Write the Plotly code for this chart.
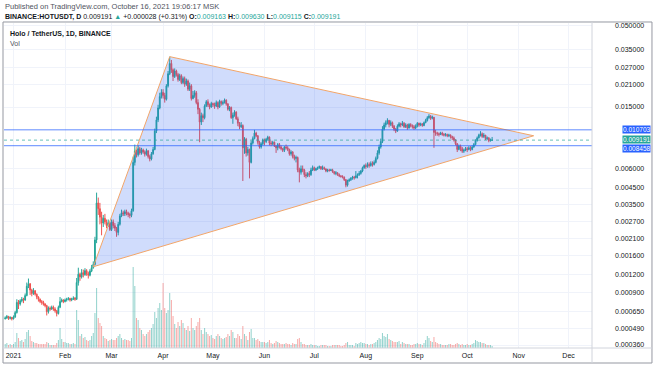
import numpy as np
import pandas as pd
import plotly.graph_objects as go

# ---------------- data (HOT/USDT daily) ----------------
dates = pd.date_range("2020-12-27", "2021-10-16", freq="D")
first_open = 0.000575

close_dec = [0.000585, 0.000600, 0.000580, 0.000590, 0.000575]
high_dec = [0.000600, 0.000615, 0.000605, 0.000600, 0.000595]
low_dec = [0.000570, 0.000575, 0.000565, 0.000570, 0.000560]

close_jan = [0.000595, 0.000640, 0.000760, 0.000740, 0.000780, 0.000800, 0.000790, 0.000850, 0.000990, 0.001030,
             0.000930, 0.000880, 0.000920, 0.000870, 0.000830, 0.000800, 0.000770, 0.000760, 0.000740, 0.000720,
             0.000650, 0.000690, 0.000680, 0.000700, 0.000680, 0.000660, 0.000630, 0.000700, 0.000770, 0.000790,
             0.000770]
high_jan = [0.000610, 0.000660, 0.000800, 0.000790, 0.000800, 0.000830, 0.000820, 0.000880, 0.001050, 0.001120,
            0.001040, 0.000950, 0.000960, 0.000930, 0.000880, 0.000840, 0.000810, 0.000790, 0.000780, 0.000750,
            0.000730, 0.000710, 0.000710, 0.000720, 0.000720, 0.000700, 0.000670, 0.000720, 0.000830, 0.000810,
            0.000800]
low_jan = [0.000570, 0.000585, 0.000630, 0.000680, 0.000720, 0.000760, 0.000750, 0.000780, 0.000840, 0.000960,
           0.000860, 0.000840, 0.000860, 0.000850, 0.000800, 0.000770, 0.000750, 0.000730, 0.000720, 0.000700,
           0.000610, 0.000630, 0.000660, 0.000670, 0.000660, 0.000640, 0.000600, 0.000620, 0.000690, 0.000760,
           0.000750]

close_feb = [0.000790, 0.000800, 0.000810, 0.000790, 0.000800, 0.000815, 0.000800, 0.001050, 0.001200, 0.001150,
             0.001230, 0.001190, 0.001270, 0.001210, 0.001180, 0.001260, 0.001330, 0.001400, 0.002050, 0.003600,
             0.003300, 0.002900, 0.002650, 0.002850, 0.002700, 0.002550, 0.002650, 0.002400]
high_feb = [0.000810, 0.000820, 0.000830, 0.000820, 0.000820, 0.000840, 0.000830, 0.001130, 0.001330, 0.001230,
            0.001300, 0.001290, 0.001320, 0.001300, 0.001250, 0.001300, 0.001390, 0.001470, 0.002150, 0.004200,
            0.003900, 0.003600, 0.003150, 0.003000, 0.003050, 0.002800, 0.002800, 0.002700]
low_feb = [0.000760, 0.000770, 0.000785, 0.000770, 0.000775, 0.000790, 0.000780, 0.000790, 0.001000, 0.001080,
           0.001120, 0.001140, 0.001170, 0.001170, 0.001120, 0.001160, 0.001240, 0.001310, 0.001380, 0.001950,
           0.003000, 0.002600, 0.002200, 0.002500, 0.002600, 0.002450, 0.002500, 0.002350]

close_mar = [0.002700, 0.002550, 0.002450, 0.002300, 0.002600, 0.002950, 0.003100, 0.003050, 0.003150, 0.003080,
             0.003020, 0.002980, 0.003200, 0.006600, 0.007800, 0.007400, 0.008100, 0.007600, 0.007950, 0.007700,
             0.007450, 0.007850, 0.007200, 0.006950, 0.007500, 0.008000, 0.010500, 0.012400, 0.014800, 0.017500,
             0.018600]
high_mar = [0.002800, 0.002800, 0.002650, 0.002500, 0.002700, 0.003050, 0.003250, 0.003200, 0.003250, 0.003250,
            0.003150, 0.003100, 0.003300, 0.007200, 0.008600, 0.008000, 0.008500, 0.008300, 0.008200, 0.008100,
            0.007900, 0.008100, 0.007900, 0.007400, 0.007700, 0.008300, 0.010900, 0.013000, 0.015500, 0.018500,
            0.019500]
low_mar = [0.002350, 0.002450, 0.002350, 0.002150, 0.002200, 0.002550, 0.002900, 0.002950, 0.002950, 0.002980,
           0.002900, 0.002850, 0.002900, 0.003150, 0.006300, 0.007100, 0.007200, 0.007400, 0.007400, 0.007500,
           0.007200, 0.007300, 0.007000, 0.006700, 0.006800, 0.007400, 0.007900, 0.010200, 0.012000, 0.014500,
           0.017000]

close_apr = [0.017800, 0.016800, 0.020500, 0.024500, 0.028500, 0.026000, 0.023500, 0.025500, 0.024200, 0.022500,
             0.023800, 0.021500, 0.022800, 0.021000, 0.022000, 0.019500, 0.020500, 0.017000, 0.017800, 0.018500,
             0.016000, 0.014500, 0.012000, 0.013200, 0.012800, 0.015200, 0.016200, 0.015500, 0.015000, 0.015800]
high_apr = [0.019500, 0.018500, 0.021000, 0.025500, 0.031500, 0.030000, 0.026500, 0.026500, 0.026000, 0.024800,
            0.024500, 0.024300, 0.023500, 0.023500, 0.022800, 0.022500, 0.021500, 0.021000, 0.019000, 0.019200,
            0.019000, 0.016800, 0.014800, 0.013800, 0.013600, 0.015600, 0.016600, 0.016800, 0.015800, 0.016200]
low_apr = [0.017000, 0.016000, 0.016500, 0.020000, 0.024000, 0.024800, 0.022000, 0.023000, 0.023500, 0.021800,
           0.022000, 0.021000, 0.021000, 0.020200, 0.020500, 0.019000, 0.019000, 0.016500, 0.016800, 0.017200,
           0.015600, 0.013500, 0.008900, 0.011500, 0.012000, 0.012500, 0.015000, 0.015000, 0.014500, 0.014800]

close_may = [0.015500, 0.015200, 0.016000, 0.015000, 0.016300, 0.015800, 0.016000, 0.016600, 0.015700, 0.014500,
             0.014900, 0.012800, 0.013300, 0.013900, 0.012600, 0.011800, 0.011200, 0.011400, 0.008200, 0.009300,
             0.007600, 0.008000, 0.006600, 0.008800, 0.009400, 0.010200, 0.009800, 0.008900, 0.008300, 0.008700,
             0.009200]
high_may = [0.016000, 0.016000, 0.016500, 0.016300, 0.016700, 0.016500, 0.016500, 0.017000, 0.016800, 0.015900,
            0.015200, 0.015100, 0.013800, 0.014300, 0.014100, 0.013000, 0.012000, 0.012000, 0.011600, 0.009600,
            0.009500, 0.008300, 0.008100, 0.009100, 0.009700, 0.010700, 0.010400, 0.009900, 0.009100, 0.008900,
            0.009400]
low_may = [0.015000, 0.014600, 0.015000, 0.014500, 0.014800, 0.015300, 0.015400, 0.015800, 0.015300, 0.014200,
           0.014100, 0.012600, 0.011700, 0.013000, 0.012400, 0.011300, 0.010800, 0.011000, 0.005000, 0.007500,
           0.007200, 0.007300, 0.005200, 0.006500, 0.008600, 0.009300, 0.009600, 0.008600, 0.008100, 0.008100,
           0.008500]

close_jun = [0.009000, 0.009300, 0.009600, 0.008800, 0.008700, 0.008900, 0.008400, 0.008200, 0.008600, 0.008300,
             0.008100, 0.007900, 0.008300, 0.008200, 0.008000, 0.007500, 0.007700, 0.007200, 0.007000, 0.007100,
             0.005900, 0.005700, 0.006000, 0.005900, 0.005500, 0.005400, 0.005600, 0.005500, 0.005900, 0.006100]
high_jun = [0.009400, 0.009500, 0.009800, 0.009700, 0.009100, 0.009100, 0.009000, 0.008500, 0.008800, 0.008800,
            0.008500, 0.008200, 0.008400, 0.008600, 0.008400, 0.008100, 0.007900, 0.007800, 0.007400, 0.007300,
            0.007200, 0.006100, 0.006300, 0.006300, 0.006000, 0.005700, 0.005700, 0.005800, 0.006100, 0.006300]
low_jun = [0.008500, 0.008800, 0.009100, 0.008500, 0.008400, 0.008500, 0.008300, 0.007600, 0.007900, 0.008100,
           0.007900, 0.007700, 0.007700, 0.008000, 0.007800, 0.007300, 0.007300, 0.007000, 0.006800, 0.006600,
           0.005700, 0.004900, 0.005500, 0.005700, 0.005300, 0.005200, 0.005300, 0.005300, 0.005400, 0.005800]

close_jul = [0.005900, 0.006000, 0.006100, 0.006200, 0.006000, 0.006100, 0.006000, 0.005800, 0.005900, 0.005850,
             0.005900, 0.005750, 0.005600, 0.005650, 0.005500, 0.005400, 0.005350, 0.005300, 0.005100, 0.004700,
             0.005000, 0.005100, 0.005200, 0.005300, 0.005250, 0.005400, 0.005500, 0.005600, 0.005800, 0.006100,
             0.006300]
high_jul = [0.006200, 0.006100, 0.006200, 0.006300, 0.006200, 0.006300, 0.006200, 0.006000, 0.006000, 0.006000,
            0.006000, 0.006000, 0.005800, 0.005800, 0.005700, 0.005600, 0.005450, 0.005450, 0.005350, 0.005150,
            0.005100, 0.005200, 0.005300, 0.005400, 0.005400, 0.005800, 0.005600, 0.005800, 0.005900, 0.006200,
            0.006400]
low_jul = [0.005800, 0.005800, 0.005900, 0.006000, 0.005900, 0.005900, 0.005900, 0.005700, 0.005700, 0.005750,
           0.005800, 0.005650, 0.005500, 0.005450, 0.005400, 0.005300, 0.005250, 0.005200, 0.005000, 0.004550,
           0.004600, 0.004950, 0.005000, 0.005100, 0.005100, 0.005200, 0.005200, 0.005400, 0.005500, 0.005700,
           0.006000]

close_aug = [0.006200, 0.006400, 0.006300, 0.006500, 0.006400, 0.006600, 0.007000, 0.007600, 0.008300, 0.009000,
             0.010800, 0.011500, 0.011900, 0.012300, 0.011600, 0.011900, 0.011300, 0.010800, 0.010500, 0.011300,
             0.011700, 0.011500, 0.011800, 0.011200, 0.011500, 0.011000, 0.011600, 0.011400, 0.011200, 0.011000,
             0.011300]
high_aug = [0.006500, 0.006600, 0.006600, 0.006700, 0.006700, 0.006800, 0.007200, 0.007900, 0.008600, 0.009400,
            0.011300, 0.011900, 0.012300, 0.012700, 0.012400, 0.012300, 0.012100, 0.011500, 0.011000, 0.011600,
            0.012000, 0.011900, 0.012200, 0.012000, 0.011800, 0.011700, 0.011800, 0.011800, 0.011600, 0.011500,
            0.011600]
low_aug = [0.006000, 0.006100, 0.006100, 0.006200, 0.006200, 0.006300, 0.006500, 0.006900, 0.007400, 0.008100,
           0.008800, 0.010600, 0.011100, 0.011600, 0.011100, 0.011300, 0.011000, 0.010500, 0.010200, 0.010400,
           0.011100, 0.011100, 0.011300, 0.011000, 0.011000, 0.010700, 0.010900, 0.011100, 0.010900, 0.010700,
           0.010800]

close_sep = [0.011800, 0.011500, 0.011700, 0.011400, 0.011900, 0.012300, 0.012800, 0.013100, 0.012700, 0.012900,
             0.010300, 0.010200, 0.010100, 0.010000, 0.010200, 0.010000, 0.009900, 0.010000, 0.009800, 0.009900,
             0.009700, 0.009500, 0.009200, 0.008700, 0.008000, 0.008400, 0.008100, 0.007800, 0.007900, 0.008100]
high_sep = [0.012000, 0.011900, 0.011900, 0.011800, 0.012100, 0.012600, 0.013100, 0.013500, 0.013300, 0.013200,
            0.012900, 0.010700, 0.010400, 0.010300, 0.010400, 0.010400, 0.010200, 0.010200, 0.010100, 0.010100,
            0.010000, 0.009800, 0.009700, 0.009300, 0.008800, 0.008600, 0.008600, 0.008300, 0.008100, 0.008300]
low_sep = [0.011100, 0.011200, 0.011300, 0.011200, 0.011300, 0.011800, 0.012100, 0.012600, 0.012400, 0.012500,
           0.008200, 0.009800, 0.009800, 0.009700, 0.009900, 0.009800, 0.009700, 0.009700, 0.009600, 0.009600,
           0.009400, 0.009200, 0.009000, 0.008500, 0.007700, 0.007900, 0.007800, 0.007600, 0.007600, 0.007800]

close_oct = [0.008000, 0.008200, 0.008000, 0.008300, 0.008600, 0.009100, 0.009500, 0.009900, 0.010100, 0.009700,
             0.009900, 0.009400, 0.009500, 0.009100, 0.009163, 0.009191]
high_oct = [0.008300, 0.008400, 0.008400, 0.008500, 0.008800, 0.009300, 0.009700, 0.010100, 0.010500, 0.010300,
            0.010200, 0.009900, 0.009700, 0.009600, 0.009400, 0.009630]
low_oct = [0.007700, 0.007900, 0.007800, 0.007900, 0.008200, 0.008500, 0.009000, 0.009400, 0.009700, 0.009500,
           0.009500, 0.009200, 0.009200, 0.008900, 0.009000, 0.009115]

# volume (relative units)
vol_dec = [4, 5, 3, 4, 3]
vol_jan = [4, 6, 15, 10, 7, 8, 6, 9, 16, 18, 12, 7, 6, 5, 5, 4, 4, 4, 4, 4, 6, 5, 3, 3, 3, 3, 5, 8, 20, 9, 6]
vol_feb = [6, 5, 5, 4, 4, 5, 4, 38, 28, 12, 14, 10, 11, 8, 7, 8, 12, 15, 35, 60, 30, 25, 22, 12, 10, 9, 7, 8]
vol_mar = [9, 8, 8, 10, 12, 14, 10, 8, 9, 8, 8, 7, 10, 81, 62, 30, 28, 20, 18, 14, 12, 14, 16, 18, 20, 24, 36, 30,
           40, 45, 38]
vol_apr = [65, 40, 35, 38, 55, 48, 32, 24, 20, 26, 22, 28, 25, 20, 18, 22, 17, 30, 20, 18, 22, 26, 30, 18, 14, 20,
           16, 14, 12, 13]
vol_may = [10, 9, 12, 14, 12, 10, 9, 10, 11, 14, 12, 18, 16, 10, 10, 14, 12, 9, 22, 14, 12, 8, 16, 19, 10, 10, 8,
           9, 7, 6, 6]
vol_jun = [6, 5, 6, 8, 5, 4, 5, 7, 6, 5, 4, 4, 4, 5, 4, 4, 3, 5, 4, 4, 9, 10, 6, 4, 4, 3, 3, 3, 4, 3]
vol_jul = [3, 3, 2, 2, 3, 3, 3, 3, 2, 2, 2, 3, 3, 3, 3, 3, 2, 2, 3, 5, 6, 3, 3, 3, 2, 5, 4, 5, 6, 5, 5]
vol_aug = [4, 4, 3, 4, 4, 5, 6, 8, 10, 9, 15, 12, 11, 14, 9, 8, 7, 6, 6, 6, 7, 4, 6, 5, 4, 4, 4, 3, 3, 4, 4]
vol_sep = [5, 4, 4, 3, 5, 8, 12, 10, 7, 6, 11, 6, 5, 4, 4, 3, 3, 3, 3, 4, 4, 3, 3, 4, 5, 4, 3, 4, 3, 3]
vol_oct = [4, 3, 3, 4, 5, 8, 7, 6, 6, 5, 5, 4, 3, 3, 3, 2]

# triangle drawing anchors
tri_dates = ["2021-02-18", "2021-04-05", "2021-11-10", "2021-02-18"]
tri_prices = [0.00135, 0.0315, 0.0098, 0.00135]

# horizontal levels
level_hi = 0.010703
level_lo = 0.008458
last_price = 0.009191

tick_prices = [0.05, 0.035, 0.027, 0.021, 0.015, 0.006, 0.0045, 0.0035, 0.0027, 0.0021, 0.0016,
               0.0012, 0.0009, 0.00065, 0.00049, 0.00036]
tick_labels = ["0.050000", "0.035000", "0.027000", "0.021000", "0.015000", "0.006000", "0.004500",
               "0.003500", "0.002700", "0.002100", "0.001600", "0.001200", "0.000900", "0.000650",
               "0.000490", "0.000360"]
month_ticks = ["2021-%02d-01" % m for m in range(1, 13)]
month_labels = ["2021", "Feb", "Mar", "Apr", "May", "Jun", "Jul", "Aug", "Sep", "Oct", "Nov", "Dec"]

# ---------------- assemble ----------------
closes = np.array(close_dec + close_jan + close_feb + close_mar + close_apr + close_may + close_jun +
                  close_jul + close_aug + close_sep + close_oct)
highs = np.array(high_dec + high_jan + high_feb + high_mar + high_apr + high_may + high_jun +
                 high_jul + high_aug + high_sep + high_oct)
lows = np.array(low_dec + low_jan + low_feb + low_mar + low_apr + low_may + low_jun +
                low_jul + low_aug + low_sep + low_oct)
vols = np.array(vol_dec + vol_jan + vol_feb + vol_mar + vol_apr + vol_may + vol_jun +
                vol_jul + vol_aug + vol_sep + vol_oct, dtype=float)
opens = np.concatenate([[first_open], closes[:-1]])
assert len(closes) == len(dates) == len(highs) == len(lows) == len(vols)

OFFSET = 1e-4  # TradingView-style log scale: log10(price + offset)


def tf(p):
    return np.log10(np.asarray(p, dtype=float) + OFFSET)


UP = "#26a69a"
DOWN = "#ef5350"
up_mask = closes >= opens
vol_colors = np.where(up_mask, "rgba(38,166,154,0.5)", "rgba(239,83,80,0.5)")

FONT = "Liberation Sans"
fig = go.Figure()

fig.add_trace(go.Scatter(
    x=tri_dates, y=tf(tri_prices), mode="lines", fill="toself",
    fillcolor="rgba(33,90,240,0.21)", line=dict(color="rgb(242,165,105)", width=1),
    hoverinfo="skip", showlegend=False))

fig.add_trace(go.Candlestick(
    x=dates, open=tf(opens), high=tf(highs), low=tf(lows), close=tf(closes),
    increasing=dict(line=dict(color=UP, width=1), fillcolor=UP),
    decreasing=dict(line=dict(color=DOWN, width=1), fillcolor=DOWN),
    whiskerwidth=0, showlegend=False))

fig.add_trace(go.Bar(
    x=dates, y=vols, yaxis="y2", marker=dict(color=vol_colors, line=dict(width=0)),
    width=0.6 * 86400000, showlegend=False))

y_top = -1.2860
y_bot = -3.3561

fig.update_layout(
    width=654, height=366,
    margin=dict(l=4, r=62, t=23, b=18),
    paper_bgcolor="white", plot_bgcolor="white",
    font=dict(family=FONT, size=7, color="#131722"),
    bargap=0.3,
    xaxis=dict(
        type="date", range=["2020-12-26 06:43", "2021-12-15 02:24"],
        rangeslider=dict(visible=False),
        tickmode="array", tickvals=month_ticks, ticktext=month_labels,
        showgrid=True, gridcolor="#f0f3fa", gridwidth=1,
        zeroline=False, showline=False, ticks="",
        tickfont=dict(size=7, color="#131722"), ticklabelstandoff=2,
    ),
    yaxis=dict(
        range=[y_bot, y_top], side="right",
        tickmode="array", tickvals=tf(tick_prices), ticktext=tick_labels,
        showgrid=True, gridcolor="#f0f3fa", gridwidth=1,
        zeroline=False, showline=False, ticks="",
        tickfont=dict(size=7, color="#131722"), ticklabelstandoff=22,
    ),
    yaxis2=dict(range=[0, 325], overlaying="y", visible=False, fixedrange=True),
)

shapes = []
for lv in (level_hi, level_lo):
    shapes.append(dict(type="line", xref="paper", x0=0, x1=1, yref="y", y0=float(tf(lv)), y1=float(tf(lv)),
                       line=dict(color="rgba(41,98,255,0.75)", width=1), layer="above"))
shapes.append(dict(type="line", xref="paper", x0=0, x1=1, yref="y", y0=float(tf(last_price)),
                   y1=float(tf(last_price)), line=dict(color="rgba(38,166,154,0.7)", width=1, dash="dot"),
                   layer="above"))
# frame & separators
shapes.append(dict(type="rect", xref="paper", yref="paper", x0=-0.0017, x1=1.1020, y0=-0.0462, y1=1.0031,
                   line=dict(color="#9598a1", width=1)))
shapes.append(dict(type="line", xref="paper", yref="paper", x0=1.0, x1=1.0, y0=-0.0462, y1=1.0031,
                   line=dict(color="#d1d4dc", width=1)))
shapes.append(dict(type="line", xref="paper", yref="paper", x0=-0.0017, x1=1.1020, y0=0, y1=0,
                   line=dict(color="#d1d4dc", width=1)))
fig.update_layout(shapes=shapes)

ann = []
G = UP
ann.append(dict(xref="paper", yref="paper", x=-0.0017, y=1.0523, xanchor="left", yanchor="middle",
                showarrow=False, text="Published on TradingView.com, October 16, 2021 19:06:17 MSK",
                font=dict(size=7.5, color="#50535e")))
line2 = ("<b>BINANCE:HOTUSDT, D</b> 0.009191 <span style='color:%s'>▲</span> +0.000028 (+0.31%%) "
         "<b>O:</b><span style='color:%s'>0.009163</span> <b>H:</b><span style='color:%s'>0.009630</span> "
         "<b>L:</b><span style='color:%s'>0.009115</span> <b>C:</b><span style='color:%s'>0.009191</span>"
         % (G, G, G, G, G))
ann.append(dict(xref="paper", yref="paper", x=-0.0017, y=1.0185, xanchor="left", yanchor="middle",
                showarrow=False, text=line2, font=dict(size=7, color="#131722")))
ann.append(dict(xref="paper", yref="paper", x=0.0068, y=0.9662, xanchor="left", yanchor="middle",
                showarrow=False, text="<b>Holo / TetherUS, 1D, BINANCE</b>", font=dict(size=7, color="#131722")))
ann.append(dict(xref="paper", yref="paper", x=0.0068, y=0.9354, xanchor="left", yanchor="middle",
                showarrow=False, text="Vol", font=dict(size=7, color="#50535e")))
# axis badges (TradingView pushes overlapping badges apart)
for val, col, shift in ((level_hi, "#2962ff", 0), (last_price, "#26a69a", 1), (level_lo, "#2962ff", -3)):
    ann.append(dict(xref="paper", yref="y", x=1.1, y=float(tf(val)), xanchor="right", yanchor="middle",
                    yshift=shift, showarrow=False, text="%.6f" % val, bgcolor=col, borderpad=0,
                    font=dict(size=6.5, color="white")))
fig.update_layout(annotations=ann)

fig.write_html("out.html", config={"displayModeBar": False},
               post_script="document.body.style.margin='0';document.body.style.overflow='hidden';")
